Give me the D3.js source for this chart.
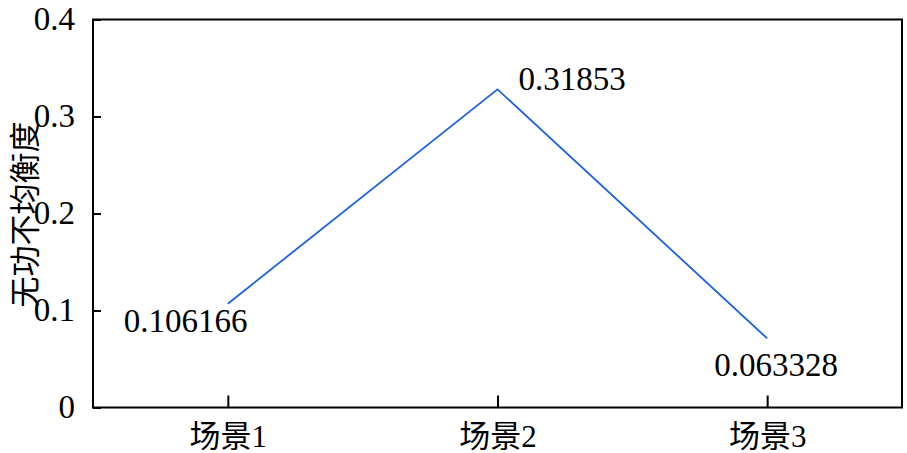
<!DOCTYPE html>
<html>

<head>
    <meta charset="UTF-8">
    <style>
        body { margin: 0; background: #fff; }
    </style>
</head>

<body>
    <div id="chart"></div>

    <script src="https://d3js.org/d3.v7.min.js"></script>
    <script>

        // Data
        const scenes = ["场景1", "场景2", "场景3"];
        const values = [0.107, 0.328, 0.0713];
        const valueLabels = ["0.106166", "0.31853", "0.063328"];
        const yTicks = [0, 0.1, 0.2, 0.3, 0.4];
        const yTitle = "无功不均衡度";

        const serif = "'Liberation Serif', 'Times New Roman', 'Noto Sans CJK SC', serif";

        const W = 907, H = 453;
        const margin = { top: 19.5, right: 5, bottom: 45.5, left: 93 };
        const width = W - margin.left - margin.right,
            height = H - margin.top - margin.bottom;

        const svg = d3.select("#chart")
            .append("svg")
            .attr("width", W)
            .attr("height", H);

        const g = svg.append("g")
            .attr("transform", `translate(${margin.left}, ${margin.top})`);

        // Scales
        const x = d3.scalePoint()
            .domain(scenes)
            .range([0, width])
            .padding(0.5);

        const y = d3.scaleLinear()
            .domain([0, 0.4])
            .range([height, 0]);

        // Box around the plot
        g.append("rect")
            .attr("width", width)
            .attr("height", height)
            .attr("fill", "none")
            .attr("stroke", "#000")
            .attr("stroke-width", 2);

        // Y axis, ticks pointing inward
        const yAxis = g.append("g")
            .call(d3.axisLeft(y).tickValues(yTicks).tickSize(-8).tickPadding(18)
                .tickFormat(d => d === 0 ? "0" : d3.format(".1f")(d)));
        yAxis.attr("font-family", serif).attr("font-size", 33);
        yAxis.select(".domain").remove();
        yAxis.selectAll("line").attr("stroke-width", 2);
        yAxis.selectAll("text")
            .style("font-family", serif)
            .style("font-size", "33px")
            .attr("fill", "#000")
            .attr("dy", "0.3em");

        // X axis, ticks pointing inward
        const xAxis = g.append("g")
            .attr("transform", `translate(0, ${height})`)
            .call(d3.axisBottom(x).tickSize(-12).tickPadding(21));
        xAxis.attr("font-family", serif).attr("font-size", 31);
        xAxis.select(".domain").remove();
        xAxis.selectAll("line").attr("stroke-width", 2);
        xAxis.selectAll("text")
            .style("font-family", serif)
            .style("font-size", "31px")
            .attr("fill", "#000")
            .attr("dy", "0.6em");

        // Y axis title
        svg.append("text")
            .attr("transform", `translate(22, ${margin.top + 195}) rotate(-90)`)
            .attr("text-anchor", "middle")
            .attr("dominant-baseline", "central")
            .style("font-size", "31px")
            .style("font-family", "'Noto Sans CJK SC', sans-serif")
            .text(yTitle);

        // The line
        const line = d3.line()
            .x((d, i) => x(scenes[i]))
            .y(d => y(d));

        g.append("path")
            .datum(values)
            .attr("fill", "none")
            .attr("stroke", "#1d60e0")
            .attr("stroke-width", 1.8)
            .attr("d", line);

        // Value labels next to each point
        const offsets = [[-104, 28], [21, 1], [-53, 38]];
        g.selectAll(".vlabel")
            .data(values)
            .enter()
            .append("text")
            .attr("class", "vlabel")
            .attr("x", (d, i) => x(scenes[i]) + offsets[i][0])
            .attr("y", (d, i) => y(d) + offsets[i][1])
            .style("font-family", serif)
            .style("font-size", "33px")
            .text((d, i) => valueLabels[i]);

    </script>
</body>

</html>
